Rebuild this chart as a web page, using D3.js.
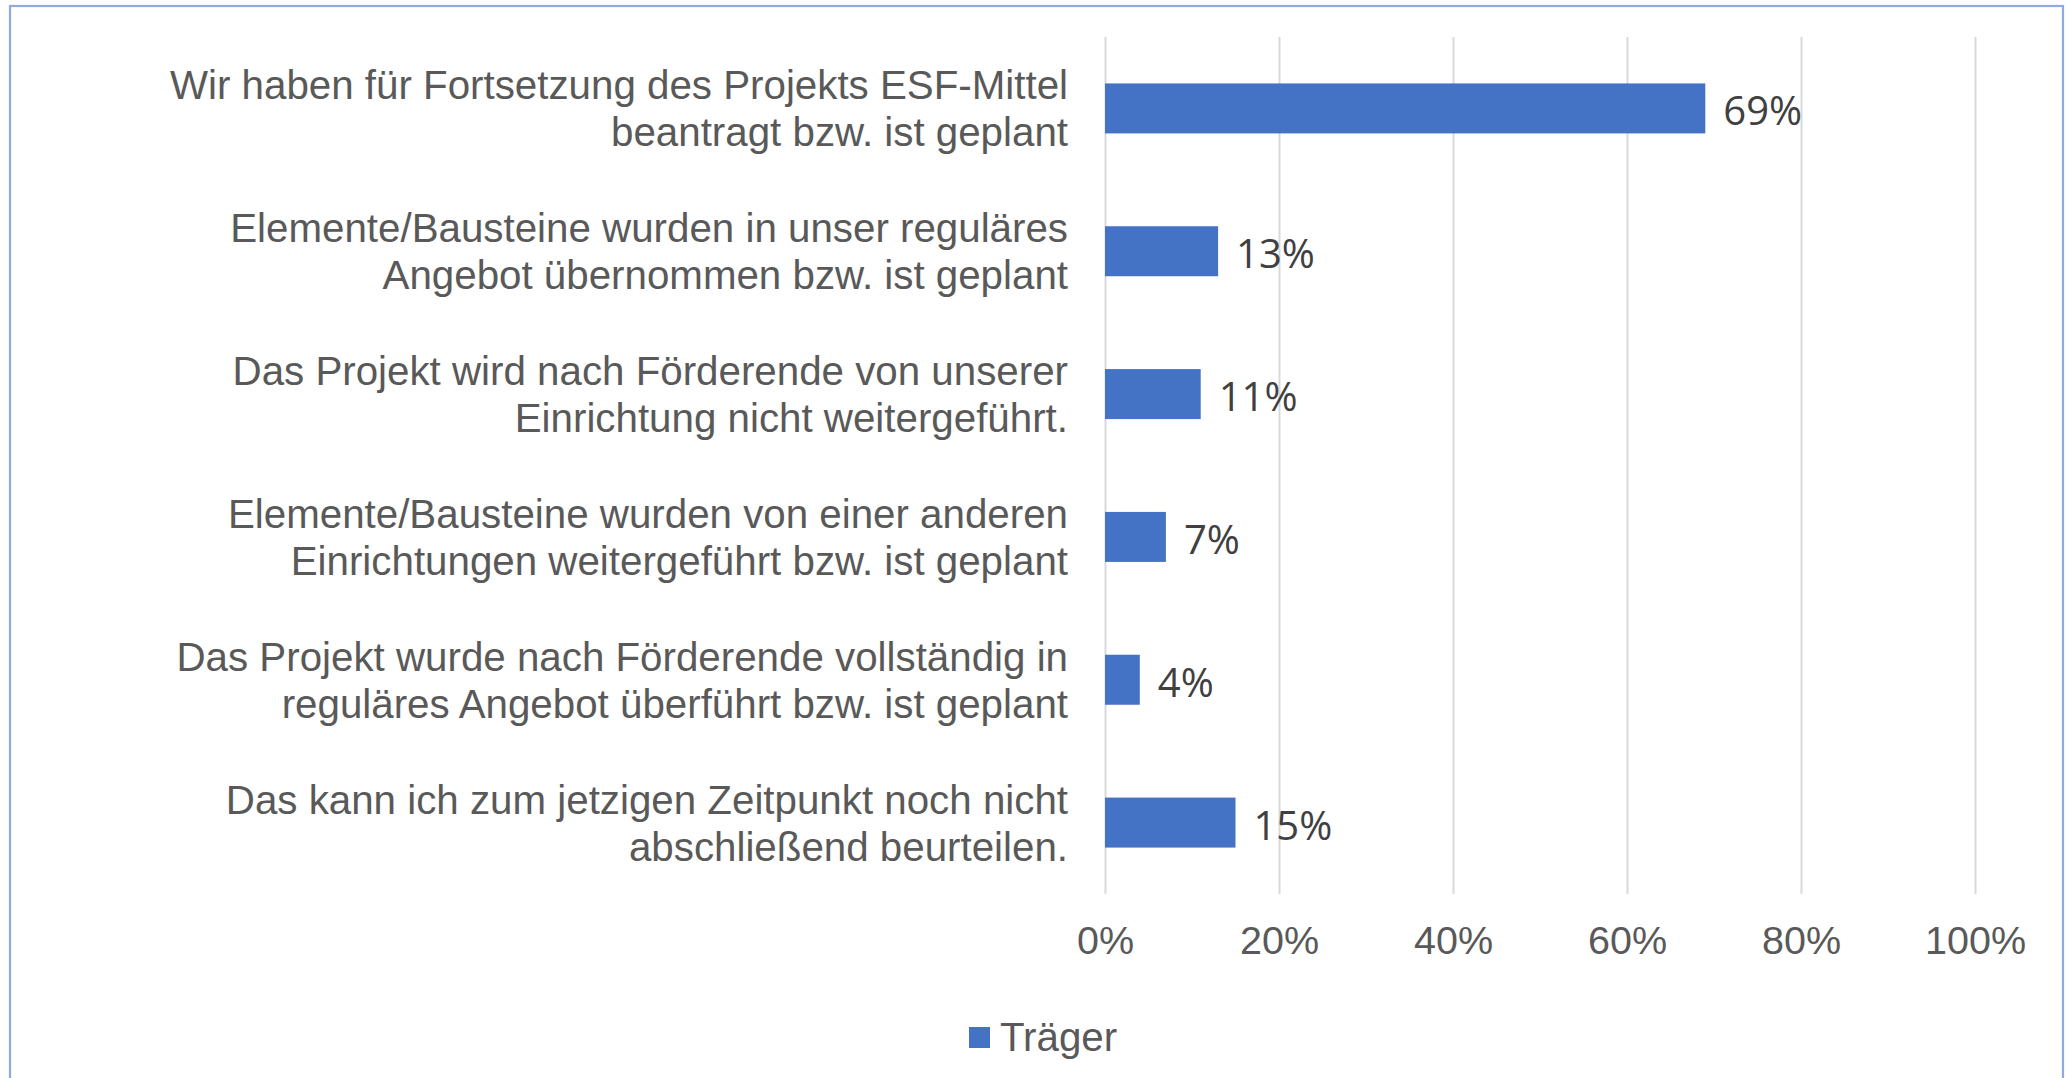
<!DOCTYPE html>
<html>
<head>
<meta charset="utf-8">
<script src="https://cdn.jsdelivr.net/npm/d3@7"></script>
<style>
  html, body { margin: 0; padding: 0; background: #ffffff; }
  svg { display: block; }
</style>
</head>
<body>
<svg id="chart" width="2066" height="1078"></svg>
<script>
// ---- data ----
const categories = [
  ["Wir haben für Fortsetzung des Projekts ESF-Mittel", "beantragt bzw. ist geplant"],
  ["Elemente/Bausteine wurden in unser reguläres", "Angebot übernommen bzw. ist geplant"],
  ["Das Projekt wird nach Förderende von unserer", "Einrichtung nicht weitergeführt."],
  ["Elemente/Bausteine wurden von einer anderen", "Einrichtungen weitergeführt bzw. ist geplant"],
  ["Das Projekt wurde nach Förderende vollständig in", "reguläres Angebot überführt bzw. ist geplant"],
  ["Das kann ich zum jetzigen Zeitpunkt noch nicht", "abschließend beurteilen."]
];
const values = [0.69, 0.13, 0.11, 0.07, 0.04, 0.15];
const tickValues = [0, 0.2, 0.4, 0.6, 0.8, 1.0];
const seriesName = "Träger";

// ---- layout ----
const svg = d3.select("#chart");
const plot = { left: 1105, right: 1975, top: 37, bottom: 894 };
const barColor = "#4472c4";
const labelFont = "'Liberation Sans', Arial, sans-serif";
const valueFont = "'Open Sans', 'Noto Sans', sans-serif";

// outer border
svg.append("rect")
  .attr("x", 10).attr("y", 6)
  .attr("width", 2053).attr("height", 1200)
  .attr("fill", "none")
  .attr("stroke", "#8faadc")
  .attr("stroke-width", 2.2);

const x = d3.scaleLinear().domain([0, 1]).range([plot.left, plot.right]);
const idx = d3.range(categories.length);
const y = d3.scaleBand().domain(idx).range([plot.top, plot.bottom])
  .paddingInner(0.65).paddingOuter(0.325);

// gridlines
const grid = svg.append("g").attr("transform", `translate(0,${plot.bottom})`)
  .call(d3.axisBottom(x).tickValues(tickValues).tickSize(-(plot.bottom - plot.top)).tickFormat(""));
grid.select(".domain").remove();
grid.selectAll(".tick line").attr("stroke", "#d9d9d9").attr("stroke-width", 2);

// x tick labels
const xAxis = svg.append("g").attr("transform", `translate(0,${plot.bottom})`)
  .call(d3.axisBottom(x).tickValues(tickValues).tickSize(0).tickFormat(d3.format(".0%")));
xAxis.select(".domain").remove();
xAxis.selectAll(".tick text")
  .attr("y", 60).attr("dy", 0)
  .attr("font-family", labelFont)
  .attr("font-size", 39.5)
  .attr("fill", "#595959");

// bars
svg.append("g").selectAll("rect").data(values).join("rect")
  .attr("x", x(0))
  .attr("y", (d, i) => y(i))
  .attr("width", d => x(d) - x(0))
  .attr("height", y.bandwidth())
  .attr("fill", barColor);

// value labels
svg.append("g").selectAll("text").data(values).join("text")
  .attr("x", d => x(d) + 18)
  .attr("y", (d, i) => y(i) + y.bandwidth() / 2 + 17)
  .attr("font-family", valueFont)
  .attr("font-size", 40)
  .attr("fill", "#404040")
  .text(d => d3.format(".0%")(d));

// category labels
const cat = svg.append("g").selectAll("text").data(categories).join("text")
  .attr("text-anchor", "end")
  .attr("font-family", labelFont)
  .attr("font-size", 40.3)
  .attr("fill", "#595959");
cat.each(function(lines, i) {
  const cy = y(i) + y.bandwidth() / 2;
  d3.select(this).selectAll("tspan").data(lines).join("tspan")
    .attr("x", 1068)
    .attr("y", (l, j) => cy - 9 + j * 47)
    .text(l => l);
});

// legend
const lg = svg.append("g");
lg.append("rect").attr("x", 969).attr("y", 1027).attr("width", 21).attr("height", 21).attr("fill", barColor);
lg.append("text").attr("x", 1000).attr("y", 1051)
  .attr("font-family", labelFont).attr("font-size", 40.3).attr("fill", "#595959")
  .text(seriesName);
</script>
</body>
</html>
